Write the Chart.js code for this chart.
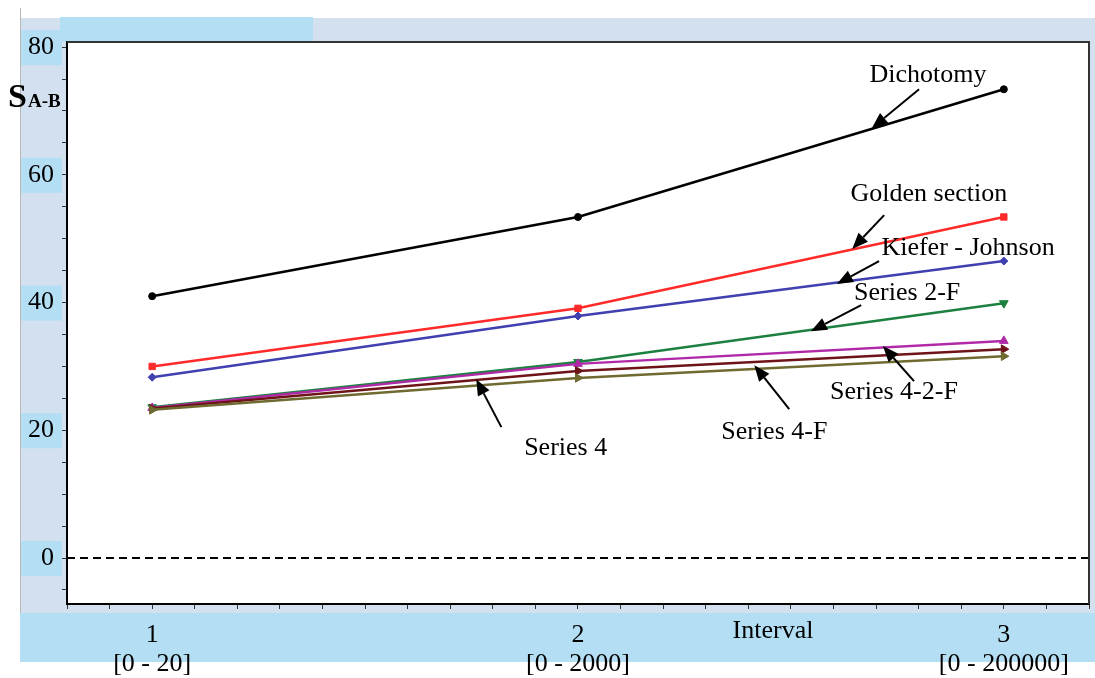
<!DOCTYPE html>
<html lang="en">
<head>
    <meta charset="UTF-8">
    <title>S A-B by interval</title>
    <style>
        body {
            margin: 0;
            padding: 0;
            background: #fff;
        }
        .wrap {
            position: relative;
            width: 1095px;
            height: 678px;
        }
    </style>
    <script src="https://cdn.jsdelivr.net/npm/chart.js"></script>
</head>
<body>
    <div class="wrap">
        <canvas id="chart" width="1095" height="678"></canvas>
    </div>
<script>
    // data
    var intervals = [1, 2, 3];
    var intervalRanges = ['[0 - 20]', '[0 - 2000]', '[0 - 200000]'];
    var yTickLabels = [0, 20, 40, 60, 80];

    var dichotomy = [41.0, 53.4, 73.4];
    var goldenSection = [30.0, 39.1, 53.4];
    var kieferJohnson = [28.3, 37.9, 46.5];
    var series2F = [23.6, 30.7, 39.9];
    var series42F = [23.5, 30.4, 34.0];
    var series4F = [23.4, 29.3, 32.7];
    var series4 = [23.2, 28.2, 31.6];

    // callouts: text position and arrow (tail -> head), in data units
    var callouts = [
        { text: 'Dichotomy', tx: 2.822, ty: 75.6, ax: 2.801, ay: 73.4, bx: 2.690, by: 67.3 },
        { text: 'Golden section', tx: 2.824, ty: 56.9, ax: 2.719, ay: 53.7, bx: 2.644, by: 48.4 },
        { text: 'Kiefer - Johnson', tx: 2.916, ty: 48.5, ax: 2.707, ay: 46.5, bx: 2.608, by: 42.9 },
        { text: 'Series 2-F', tx: 2.773, ty: 41.4, ax: 2.665, ay: 39.6, bx: 2.547, by: 35.5 },
        { text: 'Series 4-2-F', tx: 2.742, ty: 26.0, ax: 2.789, ay: 27.7, bx: 2.716, by: 33.2 },
        { text: 'Series 4-F', tx: 2.461, ty: 19.7, ax: 2.496, ay: 23.3, bx: 2.414, by: 30.2 },
        { text: 'Series 4', tx: 1.971, ty: 17.2, ax: 1.820, ay: 20.5, bx: 1.761, by: 28.0 }
    ];

    var serif = '"Liberation Serif", "Times New Roman", serif';

    function pts(values) {
        return values.map(function (v, i) { return { x: intervals[i], y: v }; });
    }

    function isWhole(v) {
        return Math.abs(v - Math.round(v)) < 1e-6;
    }

    // backgrounds, label boxes, frame, zero line, callouts
    var decor = {
        id: 'decor',
        beforeDraw: function (chart) {
            var c = chart.ctx, a = chart.chartArea, y = chart.scales.y;
            c.save();
            c.fillStyle = '#d3e0f0';
            c.fillRect(20, 18, 1075, 595);
            c.fillStyle = '#b3def4';
            c.fillRect(60, 17, 253, 25);
            c.fillRect(20, 613, 1075, 49);
            yTickLabels.forEach(function (v) {
                var py = y.getPixelForValue(v);
                c.fillRect(20, py - 17, 42, 35);
            });
            c.strokeStyle = '#b8b8b8';
            c.lineWidth = 1;
            c.beginPath();
            c.moveTo(20.5, 8);
            c.lineTo(20.5, 613);
            c.stroke();
            c.fillStyle = '#ffffff';
            c.fillRect(a.left, a.top, a.right - a.left, a.bottom - a.top);
            c.restore();
        },
        afterDraw: function (chart) {
            var c = chart.ctx, a = chart.chartArea;
            var x = chart.scales.x, y = chart.scales.y;
            c.save();
            // frame top and right
            c.strokeStyle = '#333';
            c.lineWidth = 2;
            c.beginPath();
            c.moveTo(a.left, a.top);
            c.lineTo(a.right, a.top);
            c.lineTo(a.right, a.bottom);
            c.stroke();

            // axis titles
            c.fillStyle = '#000';
            c.font = '26px ' + serif;
            c.textAlign = 'center';
            c.textBaseline = 'middle';
            c.fillText('Interval', 773, 631);
            c.textAlign = 'left';
            c.textBaseline = 'alphabetic';
            c.font = 'bold 34px ' + serif;
            c.fillText('S', 8, 107);
            c.font = 'bold 19px ' + serif;
            c.fillText('A-B', 28, 107);

            // callouts
            c.font = '26px ' + serif;
            c.textAlign = 'center';
            c.textBaseline = 'middle';
            callouts.forEach(function (o) {
                c.fillText(o.text, x.getPixelForValue(o.tx), y.getPixelForValue(o.ty));
                var x1 = x.getPixelForValue(o.ax), y1 = y.getPixelForValue(o.ay);
                var x2 = x.getPixelForValue(o.bx), y2 = y.getPixelForValue(o.by);
                var ang = Math.atan2(y2 - y1, x2 - x1);
                var len = 16, half = 6.5;
                var bx = x2 - len * Math.cos(ang), by = y2 - len * Math.sin(ang);
                c.strokeStyle = '#000';
                c.lineWidth = 2;
                c.beginPath();
                c.moveTo(x1, y1);
                c.lineTo(bx, by);
                c.stroke();
                c.beginPath();
                c.moveTo(x2, y2);
                c.lineTo(bx + half * Math.sin(ang), by - half * Math.cos(ang));
                c.lineTo(bx - half * Math.sin(ang), by + half * Math.cos(ang));
                c.closePath();
                c.fill();
            });
            c.restore();
        },
        beforeDatasetsDraw: function (chart) {
            var c = chart.ctx, a = chart.chartArea;
            var py = chart.scales.y.getPixelForValue(0);
            c.save();
            c.strokeStyle = '#000';
            c.lineWidth = 2;
            c.setLineDash([8, 5]);
            c.beginPath();
            c.moveTo(a.left, py);
            c.lineTo(a.right, py);
            c.stroke();
            c.restore();
        }
    };

    function line(label, values, color, style, radius, rotation) {
        return {
            label: label,
            data: pts(values),
            borderColor: color,
            backgroundColor: color,
            borderWidth: 2.5,
            pointStyle: style,
            pointRadius: radius,
            pointRotation: rotation || 0,
            pointBorderWidth: 1,
            tension: 0
        };
    }

    var ctx = document.getElementById('chart').getContext('2d');
    var myChart = new Chart(ctx, {
        type: 'line',
        data: {
            datasets: [
                line('Series 4', series4, '#6e6a30', 'triangle', 5, 90),
                line('Series 4-F', series4F, '#6e1418', 'triangle', 5, 90),
                line('Series 4-2-F', series42F, '#b02aa8', 'triangle', 5, 0),
                line('Series 2-F', series2F, '#1c8040', 'triangle', 5, 180),
                line('Kiefer - Johnson', kieferJohnson, '#4040b0', 'rectRot', 4, 0),
                line('Golden section', goldenSection, '#ff2a2a', 'rect', 4.5, 0),
                line('Dichotomy', dichotomy, '#000000', 'circle', 3.5, 0)
            ]
        },
        options: {
            responsive: false,
            animation: false,
            layout: { padding: { top: 42, right: 4, left: 0, bottom: 0 } },
            plugins: {
                legend: { display: false },
                tooltip: { enabled: false }
            },
            scales: {
                x: {
                    type: 'linear',
                    min: 0.8,
                    max: 3.2,
                    afterFit: function (s) {
                        s.height = 74;
                        s.paddingLeft = 0;
                        s.paddingRight = 0;
                    },
                    border: { color: '#000', width: 2 },
                    grid: { drawOnChartArea: false, color: '#333', tickLength: 5 },
                    ticks: {
                        stepSize: 0.1,
                        autoSkip: false,
                        maxRotation: 0,
                        padding: 12,
                        color: '#000',
                        font: { family: serif, size: 26, lineHeight: 1.1 },
                        callback: function (v) {
                            if (!isWhole(v)) return '';
                            var i = intervals.indexOf(Math.round(v));
                            return i < 0 ? '' : [String(intervals[i]), intervalRanges[i]];
                        }
                    }
                },
                y: {
                    min: -7.2,
                    max: 80.8,
                    afterFit: function (s) {
                        s.width = 67;
                        s.paddingTop = 0;
                        s.paddingBottom = 0;
                    },
                    border: { color: '#000', width: 2 },
                    grid: { drawOnChartArea: false, color: '#333', tickLength: 5 },
                    afterBuildTicks: function (s) {
                        var t = [];
                        for (var v = -5; v <= 80; v += 5) t.push({ value: v });
                        s.ticks = t;
                    },
                    ticks: {
                        autoSkip: false,
                        padding: 8,
                        color: '#000',
                        font: { family: serif, size: 26 },
                        callback: function (v) {
                            return yTickLabels.indexOf(v) >= 0 ? String(v) : '';
                        }
                    }
                }
            }
        },
        plugins: [decor]
    });
</script>
</body>
</html>
